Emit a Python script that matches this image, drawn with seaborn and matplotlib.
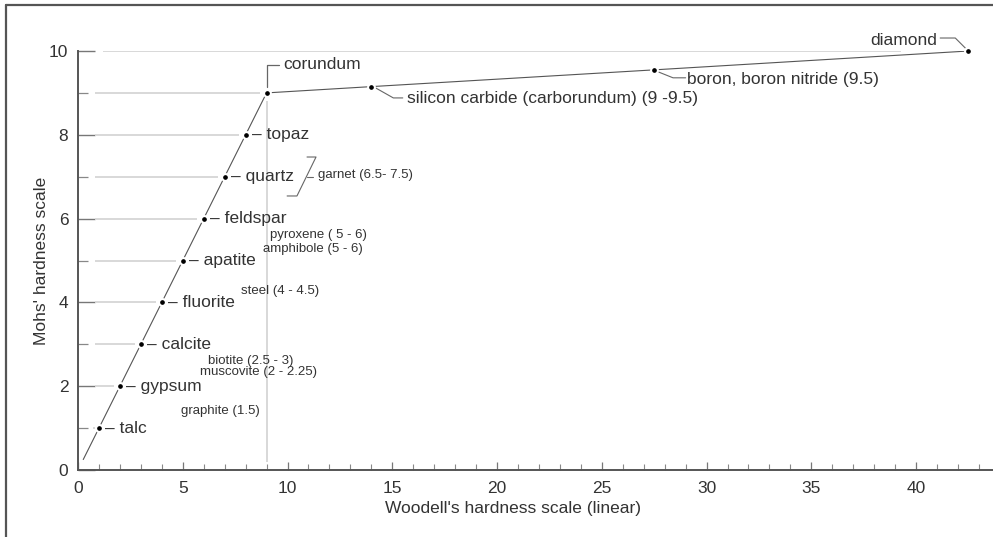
import matplotlib
matplotlib.use("Agg")
import matplotlib.pyplot as plt
import seaborn as sns
import pandas as pd
from matplotlib.ticker import MultipleLocator

# ---------------- data ----------------
minerals = ["talc", "gypsum", "calcite", "fluorite", "apatite",
            "feldspar", "quartz", "topaz", "corundum"]
mohs = [1, 2, 3, 4, 5, 6, 7, 8, 9]
woodell = [1, 2, 3, 4, 5, 6, 7, 8, 9]

extra_names = ["silicon carbide (carborundum) (9 -9.5)",
               "boron, boron nitride (9.5)", "diamond"]
extra_mohs = [9.15, 9.55, 10]
extra_woodell = [14, 27.5, 42.5]

line_start = 0.25

other_materials = ["garnet (6.5- 7.5)", "pyroxene ( 5 - 6)", "amphibole (5 - 6)",
                   "steel (4 - 4.5)", "biotite (2.5 - 3)", "muscovite (2 - 2.25)",
                   "graphite (1.5)"]
other_x = [11.45, 9.15, 8.82, 7.78, 6.2, 5.82, 4.92]
other_y = [7.04, 5.62, 5.27, 4.27, 2.6, 2.33, 1.4]

xlabel = "Woodell's hardness scale (linear)"
ylabel = "Mohs' hardness scale"

# ---------------- style ----------------
sns.set_style("white")
plt.rcParams["font.family"] = ["Liberation Sans", "DejaVu Sans"]
TXT = "#333333"
GRID = "#d6d6d6"
LINE = "#555555"

fig = plt.figure(figsize=(9.93, 5.37), dpi=100)
W, H = 993, 537
ax = fig.add_axes([78 / W, (H - 470) / H, 1 - 78 / W, (470 - 51) / H])

# frame around figure (left and top edges)
fig.add_artist(plt.Line2D([6 / W, 6 / W], [0, 1 - 5 / H], transform=fig.transFigure,
                          color="#555555", lw=1.6))
fig.add_artist(plt.Line2D([6 / W, 1], [1 - 5 / H, 1 - 5 / H], transform=fig.transFigure,
                          color="#555555", lw=1.6))

# horizontal guide lines
for m, w in zip(mohs, woodell):
    ax.hlines(m, 0.8, w - 0.3, color=GRID, lw=1.3, zorder=1)
ax.hlines(10, 1.2, 39.3, color=GRID, lw=1.3, zorder=1)

# vertical line at corundum
ax.vlines(woodell[-1], 0.2, mohs[-1] - 0.2, color=GRID, lw=1.3, zorder=1)
ax.plot([woodell[-1], woodell[-1], woodell[-1] + 0.6],
        [mohs[-1] + 0.15, 9.67, 9.67], color="#666666", lw=0.9, zorder=2)

# main curve
line_df = pd.DataFrame({
    "w": [line_start] + woodell + extra_woodell,
    "m": [line_start] + mohs + extra_mohs,
})
sns.lineplot(data=line_df, x="w", y="m", ax=ax, color=LINE, lw=0.8,
             sort=False, estimator=None, zorder=2)

pts = pd.DataFrame({"w": woodell + extra_woodell, "m": mohs + extra_mohs})
sns.scatterplot(data=pts, x="w", y="m", ax=ax, color="black", s=24,
                edgecolor="white", linewidth=1.5, zorder=3, clip_on=False)

# labels for Mohs minerals
for name, w, m in zip(minerals[:-1], woodell[:-1], mohs[:-1]):
    ax.text(w + 0.3, m, "– " + name, fontsize=12.5, color=TXT, va="center", ha="left")
ax.text(9.8, 9.67, minerals[-1], fontsize=12.5, color=TXT, va="center", ha="left")

# extra materials with leaders
ax.plot([14.2, 15.05, 15.5], [9.12, 8.88, 8.88], color="#666666", lw=0.8)
ax.text(15.7, 8.87, extra_names[0], fontsize=12.5, color=TXT, va="center", ha="left")
ax.plot([27.7, 28.4, 29.0], [9.5, 9.36, 9.36], color="#666666", lw=0.8)
ax.text(29.05, 9.31, extra_names[1], fontsize=12.5, color=TXT, va="center", ha="left")
ax.plot([41.15, 41.87, 42.35], [10.31, 10.31, 10.07], color="#666666", lw=0.8,
        clip_on=False)
ax.text(41.0, 10.25, extra_names[2], fontsize=12.5, color=TXT, va="center", ha="right")

# garnet bracket
ax.plot([10.93, 11.36, 10.45, 9.98], [7.47, 7.47, 6.54, 6.54], color="#666666", lw=0.8)
ax.plot([10.92, 11.2], [7.0, 7.0], color="#666666", lw=0.8)

for t, x, y in zip(other_materials, other_x, other_y):
    ax.text(x, y, t, fontsize=9.5, color=TXT, va="center", ha="left")

# axes formatting
ax.set_xlim(0, 43.67)
ax.set_ylim(0, 10)
ax.set_xticks([0, 5, 10, 15, 20, 25, 30, 35, 40])
ax.xaxis.set_minor_locator(MultipleLocator(1))
ax.set_yticks([0, 2, 4, 6, 8, 10])
ax.yaxis.set_minor_locator(MultipleLocator(1))
for s in ["top", "right"]:
    ax.spines[s].set_visible(False)
for s in ["left", "bottom"]:
    ax.spines[s].set_color("#555555")
    ax.spines[s].set_linewidth(1.4)
ax.tick_params(axis="x", which="major", direction="in", length=6, width=0.9,
               color="#777777", labelsize=12.5, labelcolor=TXT, pad=8, bottom=True)
ax.tick_params(axis="x", which="minor", direction="in", length=4, width=0.8,
               color="#888888", bottom=True)
ax.tick_params(axis="y", which="major", direction="in", length=12, width=1.0,
               color="#777777", labelsize=12.5, labelcolor=TXT, pad=7, left=True)
ax.tick_params(axis="y", which="minor", direction="in", length=7, width=0.9,
               color="#888888", left=True)
ax.set_xlabel(xlabel, fontsize=12.5, color=TXT)
ax.set_ylabel(ylabel, fontsize=12.5, color=TXT)
ax.xaxis.set_label_coords(0.475, -0.075)
ax.yaxis.set_label_coords(-0.032, 0.5)
ax.set_facecolor("white")
ax.patch.set_alpha(0)

fig.savefig("out.png", dpi=100, facecolor="white")
